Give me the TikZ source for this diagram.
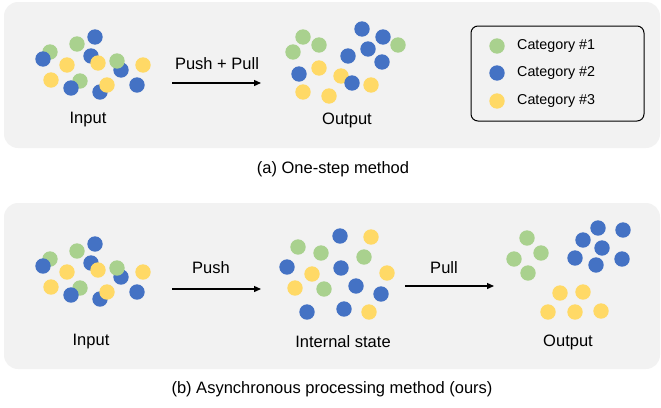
\documentclass[tikz,border=0pt]{standalone}
\usepackage{fontspec}
\setmainfont{Liberation Sans}
\usepackage{tikz}
\usetikzlibrary{arrows.meta, positioning}

\definecolor{cgreen}{HTML}{A9D18E}
\definecolor{cblue}{HTML}{4472C4}
\definecolor{cyellow}{HTML}{FFD966}
\definecolor{panel}{HTML}{F2F2F2}

\tikzset{
  lbl/.style={inner sep=0pt, font=\fontsize{16.5}{19}\selectfont},
  legtext/.style={inner sep=0pt, anchor=west, font=\fontsize{14.3}{17}\selectfont},
  flow/.style={-{Triangle[length=7pt,width=6pt]}, line width=1.3pt},
}

\begin{document}
\begin{tikzpicture}[x=1pt,y=-1pt]
\useasboundingbox (0,0) rectangle (661,407);

% panels
\fill[panel, rounded corners=14pt] (4,2) rectangle (660,148);
\fill[panel, rounded corners=14pt] (4,203) rectangle (660,369);

% input clouds (same pattern in both panels)
\foreach \dy in {0, 207} {
  \foreach \x/\y/\c in {50/52/cgreen, 43/59/cblue, 77/44/cgreen, 95/37/cblue,
      91/56/cblue, 67/65/cyellow, 98/63/cyellow, 121/70/cblue, 117/61/cgreen,
      143/65/cyellow, 51/80/cyellow, 80/81/cgreen, 71/88/cblue, 100/92/cblue,
      107/85/cyellow, 137/85/cblue}
    \fill[\c] (\x,{\y+\dy}) circle (7.7pt);
}

% (a) output
\foreach \x/\y/\c in {303/37/cgreen, 319/45/cgreen, 293/52/cgreen, 362/29/cblue,
    383/37/cblue, 398/45/cgreen, 368/49/cblue, 348/56/cblue, 382/62/cblue,
    319/68/cyellow, 299/74/cblue, 341/76/cyellow, 352/83/cblue, 371/85/cyellow,
    303/92/cyellow, 329/96/cyellow}
  \fill[\c] (\x,\y) circle (7.7pt);

% (b) internal state
\foreach \x/\y/\c in {340/236/cblue, 371/237/cyellow, 298/247/cgreen, 321/253/cgreen,
    364/257/cgreen, 287/267/cblue, 312/274/cyellow, 341/268/cblue, 387/273/cyellow,
    295/288/cyellow, 324/289/cgreen, 356/286/cblue, 381/294/cblue, 307/312/cblue,
    344/309/cblue, 369/312/cyellow}
  \fill[\c] (\x,\y) circle (7.7pt);

% (b) output
\foreach \x/\y/\c in {527/238/cgreen, 541/253/cgreen, 514/259/cgreen, 528/273/cgreen,
    598/228/cblue, 623/230/cblue, 583/240/cblue, 602/248/cblue, 575/258/cblue,
    596/265/cblue, 622/259/cblue, 560/293/cyellow, 583/292/cyellow,
    548/312/cyellow, 575/312/cyellow, 601/311/cyellow}
  \fill[\c] (\x,\y) circle (7.7pt);

% labels
\node[lbl] (inA)  at (88,120)  {Input};
\node[lbl] (outA) at (347,120) {Output};
\node[lbl] (inB)  at (91,342)  {Input};
\node[lbl] (midB) at (343,342) {Internal state};
\node[lbl] (outB) at (568,342) {Output};
\node[lbl] (capA) at (333,169) {(a) One-step method};
\node[lbl] (capB) at (332,389) {(b) Asynchronous processing method (ours)};

% arrows
\coordinate (a1) at (172,83);  \coordinate (a2) at (261,83);
\coordinate (b1) at (172,289); \coordinate (b2) at (261,289);
\coordinate (c1) at (405,286); \coordinate (c2) at (494,286);
\draw[flow] (a1) -- (a2);
\draw[flow] (b1) -- (b2);
\draw[flow] (c1) -- (c2);
\node[lbl] (pp)   at (217,64)  {Push + Pull};
\node[lbl] (push) at (211,268) {Push};
\node[lbl] (pull) at (444,268) {Pull};

% legend
\draw[line width=1pt, rounded corners=7pt] (471,26) rectangle (644,121);
\foreach \y/\c/\t in {46/cgreen/1, 73/cblue/2, 101/cyellow/3} {
  \fill[\c] (497,\y) circle (7.7pt);
  \node[legtext] (leg\t) at (517,\y) {Category \#\t};
}
\end{tikzpicture}
\end{document}
